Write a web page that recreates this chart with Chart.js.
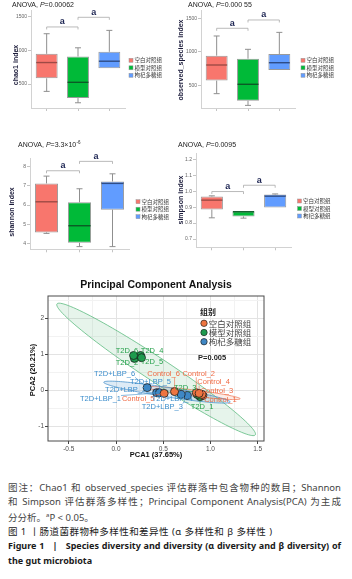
<!DOCTYPE html>
<html>
<head>
<meta charset="utf-8">
<script src="https://cdn.jsdelivr.net/npm/chart.js@4.4.0/dist/chart.umd.min.js"></script>
<style>
body { margin: 0; width: 352px; height: 579px; background: #fff; position: relative; overflow: hidden; }
canvas { position: absolute; }
.cap { position: absolute; left: 8px; width: 333px; font-family: "Noto Sans", "Noto Sans CJK SC", sans-serif; font-size: 9.5px; line-height: 14px; color: #444; white-space: nowrap; }
.j { text-align: justify; text-align-last: justify; }
.dark { color: #222; letter-spacing: 0.45px; }
.b { font-weight: bold; color: #1a1a1a; font-size: 9px; }
</style>
</head>
<body>
<canvas id="chao1" width="176" height="115" style="left:0;top:0"></canvas>
<canvas id="observed" width="176" height="115" style="left:176px;top:0"></canvas>
<canvas id="shannon" width="176" height="115" style="left:0;top:140px"></canvas>
<canvas id="simpson" width="176" height="115" style="left:176px;top:140px"></canvas>
<canvas id="pca" width="352" height="195" style="left:0;top:270px"></canvas>

<div class="cap j" style="top:481px">图注：Chao1 和 observed_species 评估群落中包含物种的数目；Shannon</div>
<div class="cap j" style="top:495px">和 Simpson 评估群落多样性；Principal Component Analysis(PCA) 为主成</div>
<div class="cap" style="top:508px">分分析。<sup style="font-size:6px">a</sup>P &lt; 0.05。</div>
<div class="cap dark" style="top:525px">图 1 丨肠道菌群物种多样性和差异性 (α 多样性和 β 多样性 )</div>
<div class="cap b j" style="top:539px">Figure 1 &nbsp; | &nbsp; Species diversity and diversity (α diversity and β diversity) of</div>
<div class="cap b" style="top:554px">the gut microbiota</div>

<script>
Chart.defaults.font.family = 'Arial, "Liberation Sans", sans-serif';

// groups
const groups = ['空白对照组', '模型对照组', '枸杞多糖组'];
const fills = ['#F8766D', '#00BA38', '#619CFF'];
const medians = ['#9E4A45', '#0B5A25', '#2E4C86'];

// box summaries per group: [min, q1, median, q3, max]
const chao1Boxes = [[390, 585, 820, 950, 1250], [220, 290, 525, 910, 1040], [735, 735, 840, 980, 1300]];
const observedBoxes = [[375, 570, 803, 942, 1236], [200, 270, 515, 897, 1037], [728, 728, 837, 967, 1290]];
const shannonBoxes = [[4.52, 4.57, 6.17, 7.13, 7.51], [3.83, 4.03, 4.92, 6.14, 6.85], [3.83, 5.76, 7.13, 7.23, 7.63]];
const simpsonBoxes = [[0.833, 0.885, 0.944, 0.967, 0.971], [0.831, 0.842, 0.871, 0.875, 0.875], [0.898, 0.898, 0.969, 0.979, 0.983]];

// y ticks
const chao1Ticks = [500, 1000, 1500];
const observedTicks = [500, 1000, 1500];
const shannonTicks = [4, 5, 6, 7, 8];
const simpsonTicks = [0.7, 0.8, 0.9, 1.0, 1.1, 1.2];

// significance brackets: [from, to, level]
const chao1Sig = [[0, 1, 1351], [1, 2, 1495]];
const observedSig = [[0, 1, 1351], [1, 2, 1475]];
const shannonSig = [[0, 1, 7.79], [1, 2, 8.28]];
const simpsonSig = [[0, 1, 0.998], [1, 2, 1.0375]];

// PCA scores
const pcaGroups = ['空白对照组', '模型对照组', '枸杞多糖组'];
const controlNames = ['Control_1', 'Control_2', 'Control_3', 'Control_4', 'Control_5', 'Control_6'];
const controlX = [0.92, 0.85, 0.91, 0.88, 0.51, 0.62];
const controlY = [-0.14, -0.06, -0.11, -0.08, -0.08, -0.03];
const t2dNames = ['T2D_1', 'T2D_2', 'T2D_3', 'T2D_4', 'T2D_5', 'T2D_6'];
const t2dX = [0.89, 0.195, 0.86, 0.26, 0.27, 0.186];
const t2dY = [-0.17, 0.89, -0.11, 0.97, 0.91, 0.97];
const lbpNames = ['T2D+LBP_1', 'T2D+LBP_2', 'T2D+LBP_3', 'T2D+LBP_4', 'T2D+LBP_5', 'T2D+LBP_6'];
const lbpX = [0.45, 0.43, 0.755, 0.69, 0.46, 0.33];
const lbpY = [-0.07, -0.06, -0.14, -0.11, -0.06, 0.08];

// confidence ellipses: centre and two axis vectors (data units)
const controlEllipse = [0.82, -0.07, 0.495, -0.16, 0.004, 0.085];
const t2dEllipse = [0.425, 0.585, 1.05, -1.815, 0.070, 0.277];
const lbpEllipse = [0.54, -0.045, 0.67, -0.275, 0.008, 0.13];

const pcaXTicks = [-0.5, 0, 0.5, 1, 1.5];
const pcaXMinor = [-0.25, 0.25, 0.75, 1.25];
const pcaYTicks = [-1, 0, 1, 2];
const pcaYMinor = [-0.5, 0.5, 1.5, 2.5];

// label placement (pixel offsets from each point)
const controlLabelPos = [[17.5, 4.2], [2.4, -18.9], [15, -4], [14.5, -11.2], [-26, 5.4], [-11, -17.8]];
const t2dLabelPos = [[2, 10.6], [-7.4, 4.8], [-12, -6.7], [11.5, -4.3], [10.5, 3.9], [-6.6, -4.3]];
const lbpLabelPos = [[-58, 6], [-31, -3], [-25, 11.6], [-9, 4.3], [-9, -10.5], [-32.6, -13.8]];

function line(ctx, x1, y1, x2, y2) {
    ctx.beginPath();
    ctx.moveTo(x1, y1);
    ctx.lineTo(x2, y2);
    ctx.stroke();
}

// title like "ANOVA, P=..." with italic P
function drawAnova(ctx, x, y, rest, sup) {
    ctx.save();
    ctx.fillStyle = '#222';
    ctx.textBaseline = 'middle';
    ctx.textAlign = 'left';
    ctx.font = '7px Arial';
    ctx.fillText('ANOVA, ', x, y);
    x += ctx.measureText('ANOVA, ').width;
    ctx.font = 'italic 7px Arial';
    ctx.fillText('P', x, y);
    x += ctx.measureText('P').width;
    ctx.font = '7px Arial';
    ctx.fillText(rest, x, y);
    if (sup) {
        x += ctx.measureText(rest).width;
        ctx.font = '4.5px Arial';
        ctx.fillText(sup, x + 0.3, y - 2.5);
    }
    ctx.restore();
}

function boxPanel(id, p) {
    const extras = {
        id: 'boxExtras_' + id,
        afterDatasetsDraw(chart) {
            const { ctx, scales: { y } } = chart;
            const meta = chart.getDatasetMeta(0);
            ctx.save();
            p.boxes.forEach((b, i) => {
                const bar = meta.data[i];
                const cx = bar.x, half = bar.width / 2;
                ctx.strokeStyle = '#8f8f8f';
                ctx.lineWidth = 1;
                if (b[4] > b[3]) {
                    line(ctx, cx, y.getPixelForValue(b[3]), cx, y.getPixelForValue(b[4]));
                    line(ctx, cx - 3, y.getPixelForValue(b[4]), cx + 3, y.getPixelForValue(b[4]));
                }
                if (b[0] < b[1]) {
                    line(ctx, cx, y.getPixelForValue(b[1]), cx, y.getPixelForValue(b[0]));
                    line(ctx, cx - 3, y.getPixelForValue(b[0]), cx + 3, y.getPixelForValue(b[0]));
                }
                ctx.strokeStyle = medians[i];
                ctx.lineWidth = 1.4;
                const my = y.getPixelForValue(b[2]);
                line(ctx, cx - half + 0.5, my, cx + half - 0.5, my);
            });
            // brackets
            p.sig.forEach(([a, c, v]) => {
                const x1 = meta.data[a].x, x2 = meta.data[c].x;
                const by = y.getPixelForValue(v);
                ctx.strokeStyle = '#a8a8a8';
                ctx.lineWidth = 0.8;
                ctx.beginPath();
                ctx.moveTo(x1, by + 2.5);
                ctx.lineTo(x1, by);
                ctx.lineTo(x2, by);
                ctx.lineTo(x2, by + 2.5);
                ctx.stroke();
                ctx.fillStyle = '#1c2452';
                ctx.font = 'bold 9px Arial';
                ctx.textAlign = 'center';
                ctx.textBaseline = 'bottom';
                ctx.fillText('a', (x1 + x2) / 2, by - 0.5);
            });
            ctx.restore();
        },
        afterDraw(chart) {
            const { ctx } = chart;
            ctx.save();
            drawAnova(ctx, p.titleX, 5.5, p.pText, p.pSup);
            // y title
            ctx.translate(p.yTitleX, p.yTitleY);
            ctx.rotate(-Math.PI / 2);
            ctx.fillStyle = '#1b1b3a';
            ctx.font = 'bold 7px Arial';
            ctx.textAlign = 'center';
            ctx.textBaseline = 'middle';
            ctx.fillText(p.yTitle, 0, 0);
            ctx.restore();
            // legend
            ctx.save();
            groups.forEach((g, i) => {
                const ly = p.legendY + i * 7.5;
                ctx.fillStyle = fills[i];
                ctx.fillRect(p.legendX - 2, ly - 2, 4, 4);
                ctx.strokeStyle = '#999';
                ctx.lineWidth = 0.5;
                ctx.strokeRect(p.legendX - 2, ly - 2, 4, 4);
                ctx.fillStyle = '#333';
                ctx.font = '5.5px "Noto Sans CJK SC"';
                ctx.textBaseline = 'middle';
                ctx.fillText(g, p.legendX + 3.5, ly);
            });
            ctx.restore();
        }
    };
    return new Chart(document.getElementById(id), {
        type: 'bar',
        data: {
            labels: groups,
            datasets: [{
                data: p.boxes.map(b => [b[1], b[3]]),
                backgroundColor: fills,
                borderColor: '#9a9a9a',
                borderWidth: 1,
                borderSkipped: false,
                barPercentage: 0.7,
                categoryPercentage: 1
            }]
        },
        options: {
            responsive: false,
            animation: false,
            events: [],
            layout: { padding: { left: 0, right: p.padRight, top: p.padTop, bottom: p.padBottom } },
            plugins: { legend: { display: false }, tooltip: { enabled: false } },
            scales: {
                x: {
                    grid: { drawOnChartArea: false, offset: false, tickLength: 3, color: '#c4c4c4' },
                    ticks: { display: false },
                    border: { color: '#d2d2d2' },
                    afterFit(s) { s.height = 4; }
                },
                y: {
                    min: p.min,
                    max: p.max,
                    afterBuildTicks(s) { s.ticks = p.ticks.map(v => ({ value: v })); },
                    ticks: { font: { size: 5 }, color: '#666', padding: 1, callback: p.fmt },
                    grid: { drawOnChartArea: false, tickLength: 3, color: '#c4c4c4' },
                    border: { color: '#d2d2d2' },
                    afterFit(s) { s.width = p.axisW; }
                }
            }
        },
        plugins: [extras]
    });
}

boxPanel('chao1', {
    boxes: chao1Boxes, ticks: chao1Ticks, sig: chao1Sig, min: 142, max: 1604,
    axisW: 31, padRight: 51, padTop: 10, padBottom: 3, fmt: v => String(v),
    titleX: 12, pText: '=0.00062', yTitle: 'chao1 index', yTitleX: 16, yTitleY: 65,
    legendX: 131, legendY: 60.3
});
boxPanel('observed', {
    boxes: observedBoxes, ticks: observedTicks, sig: observedSig, min: 161, max: 1624,
    axisW: 25, padRight: 57, padTop: 10, padBottom: 3, fmt: v => String(v),
    titleX: 12, pText: '=0.000 55', yTitle: 'observed_species index', yTitleX: 5, yTitleY: 60,
    legendX: 127, legendY: 60.3
});
boxPanel('shannon', {
    boxes: shannonBoxes, ticks: shannonTicks, sig: shannonSig, min: 3.69, max: 8.44,
    axisW: 30, padRight: 47, padTop: 18.3, padBottom: 1.7, fmt: v => String(v),
    titleX: 18, pText: '=3.3×10', pSup: '-6', yTitle: 'shannon index', yTitleX: 12, yTitleY: 72,
    legendX: 138, legendY: 61.7
});
boxPanel('simpson', {
    boxes: simpsonBoxes, ticks: simpsonTicks, sig: simpsonSig, min: 0.648, max: 1.238,
    axisW: 20, padRight: 61, padTop: 13.3, padBottom: 3.7, fmt: v => v.toFixed(1),
    titleX: 2, pText: '=0.0095', yTitle: 'simpson index', yTitleX: 5, yTitleY: 60,
    legendX: 123.5, legendY: 61
});

// PCA
const ptColors = ['#EE7540', '#1E9A4E', '#3F87C4'];
const txtColors = ['#F06A44', '#25A04A', '#3C8DCB'];
const ellFill = ['rgba(240,120,80,0.14)', 'rgba(80,180,115,0.14)', 'rgba(70,145,205,0.18)'];
const ellLine = ['#F08060', '#5DBB80', '#4C93CC'];
const pcaNames = [controlNames, t2dNames, lbpNames];
const pcaXs = [controlX, t2dX, lbpX];
const pcaYs = [controlY, t2dY, lbpY];
const pcaEllipses = [controlEllipse, t2dEllipse, lbpEllipse];
const labelPos = [controlLabelPos, t2dLabelPos, lbpLabelPos];

const pcaExtras = {
    id: 'pcaExtras',
    beforeDatasetsDraw(chart) {
        const { ctx, scales: { x, y } } = chart;
        ctx.save();
        pcaEllipses.forEach((e, k) => {
            ctx.beginPath();
            for (let i = 0; i <= 120; i++) {
                const t = i / 120 * Math.PI * 2;
                const px = x.getPixelForValue(e[0] + e[2] * Math.cos(t) + e[4] * Math.sin(t));
                const py = y.getPixelForValue(e[1] + e[3] * Math.cos(t) + e[5] * Math.sin(t));
                if (i === 0) ctx.moveTo(px, py); else ctx.lineTo(px, py);
            }
            ctx.closePath();
            ctx.fillStyle = ellFill[k];
            ctx.fill();
            ctx.strokeStyle = ellLine[k];
            ctx.lineWidth = 0.8;
            ctx.stroke();
        });
        ctx.restore();
    },
    afterDatasetsDraw(chart) {
        const { ctx } = chart;
        ctx.save();
        ctx.font = '7.5px Arial';
        ctx.textAlign = 'center';
        ctx.textBaseline = 'middle';
        pcaNames.forEach((names, k) => {
            const meta = chart.getDatasetMeta(k);
            names.forEach((n, i) => {
                const pt = meta.data[i];
                const lx = pt.x + labelPos[k][i][0], ly = pt.y + labelPos[k][i][1];
                const w = ctx.measureText(n).width / 2, h = 3.5;
                const nx = Math.max(lx - w, Math.min(pt.x, lx + w));
                const ny = Math.max(ly - h, Math.min(pt.y, ly + h));
                if (Math.hypot(nx - pt.x, ny - pt.y) > 5) {
                    ctx.strokeStyle = txtColors[k];
                    ctx.lineWidth = 0.6;
                    line(ctx, pt.x, pt.y, nx, ny);
                }
                ctx.fillStyle = txtColors[k];
                ctx.fillText(n, lx, ly);
            });
        });
        ctx.restore();
    },
    afterDraw(chart) {
        const { ctx, chartArea: a } = chart;
        ctx.save();
        ctx.strokeStyle = '#4a4a4a';
        ctx.lineWidth = 1;
        ctx.strokeRect(a.left, a.top, a.right - a.left, a.bottom - a.top);
        ctx.fillStyle = '#111';
        ctx.textAlign = 'center';
        ctx.textBaseline = 'middle';
        ctx.font = 'bold 10.5px Arial';
        ctx.fillText('Principal Component Analysis', 156, 15);
        ctx.font = 'bold 7.5px Arial';
        ctx.fillText('PCA1 (37.65%)', 156, 185);
        ctx.save();
        ctx.translate(33, 100);
        ctx.rotate(-Math.PI / 2);
        ctx.fillText('PCA2 (20.21%)', 0, 0);
        ctx.restore();
        // legend
        ctx.textAlign = 'left';
        ctx.font = 'bold 8px "Noto Sans CJK SC"';
        ctx.fillStyle = '#222';
        ctx.fillText('组别', 200, 41.7);
        ctx.font = '8.5px "Noto Sans CJK SC"';
        pcaGroups.forEach((g, i) => {
            const ly = 53.3 + i * 9.2;
            ctx.beginPath();
            ctx.arc(204, ly, 3.2, 0, Math.PI * 2);
            ctx.fillStyle = ptColors[i];
            ctx.fill();
            ctx.strokeStyle = '#222';
            ctx.lineWidth = 0.7;
            ctx.stroke();
            ctx.fillStyle = '#444';
            ctx.fillText(g, 208.8, ly + 0.3);
        });
        ctx.font = 'bold 7.5px Arial';
        ctx.fillStyle = '#222';
        ctx.fillText('P=0.005', 198, 88);
        ctx.restore();
    }
};

new Chart(document.getElementById('pca'), {
    type: 'scatter',
    data: {
        datasets: pcaNames.map((n, k) => ({
            label: pcaGroups[k],
            data: pcaXs[k].map((v, i) => ({ x: v, y: pcaYs[k][i] })),
            backgroundColor: ptColors[k],
            borderColor: '#1d1d1d',
            borderWidth: 0.8,
            pointRadius: 4
        }))
    },
    options: {
        responsive: false,
        animation: false,
        events: [],
        layout: { padding: { left: 0, right: 88, top: 26, bottom: 4 } },
        plugins: { legend: { display: false }, tooltip: { enabled: false } },
        scales: {
            x: {
                type: 'linear',
                min: -0.72,
                max: 1.567,
                afterBuildTicks(s) { s.ticks = pcaXTicks.concat(pcaXMinor).map(v => ({ value: v })); },
                ticks: {
                    autoSkip: false, maxRotation: 0, font: { size: 6.5 }, color: '#4d4d4d', padding: 1,
                    callback: v => pcaXTicks.includes(v) ? v.toFixed(1) : ''
                },
                grid: {
                    tickLength: 3,
                    color: c => pcaXTicks.includes(c.tick.value) ? '#e3e3e3' : '#f2f2f2',
                    tickColor: c => pcaXTicks.includes(c.tick.value) ? '#444' : 'rgba(0,0,0,0)'
                },
                border: { display: false },
                afterFit(s) { s.height = 20; }
            },
            y: {
                type: 'linear',
                min: -1.40,
                max: 2.62,
                afterBuildTicks(s) { s.ticks = pcaYTicks.concat(pcaYMinor).map(v => ({ value: v })); },
                ticks: {
                    autoSkip: false, font: { size: 6.5 }, color: '#4d4d4d', padding: 1,
                    callback: v => pcaYTicks.includes(v) ? String(v) : ''
                },
                grid: {
                    tickLength: 3,
                    color: c => pcaYTicks.includes(c.tick.value) ? '#e3e3e3' : '#f2f2f2',
                    tickColor: c => pcaYTicks.includes(c.tick.value) ? '#444' : 'rgba(0,0,0,0)'
                },
                border: { display: false },
                afterFit(s) { s.width = 48; }
            }
        }
    },
    plugins: [pcaExtras]
});
</script>
</body>
</html>
